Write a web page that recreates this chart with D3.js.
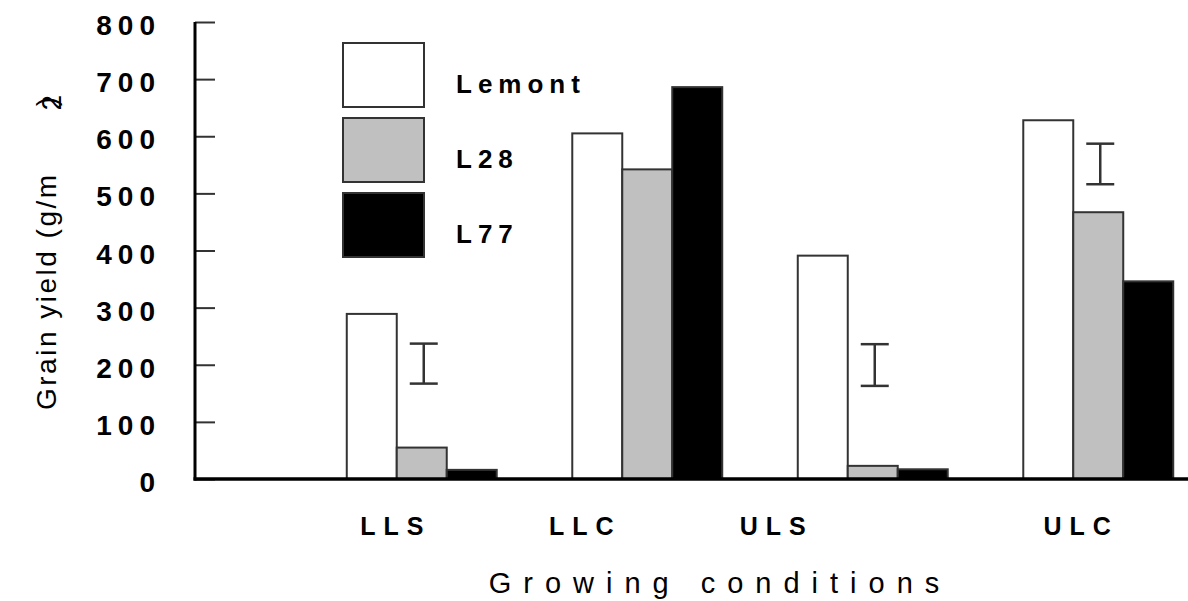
<!DOCTYPE html>
<html>
<head>
<meta charset="utf-8">
<script src="https://cdn.jsdelivr.net/npm/d3@7"></script>
<style>
	body { margin: 0; background: #fff; }
	svg { display: block; }
</style>
</head>
<body>
<div id="chart"></div>
<script>
// growing conditions and lines
var conditions = ["LLS", "LLC", "ULS", "ULC"];
var lines = ["Lemont", "L28", "L77"];
var lemont = [289, 605, 391, 628];
var l28 = [55, 542, 23, 467];
var l77 = [16, 686, 17, 346];
// LSD bars (low, high); LLC has none
var lsdLow = [167, null, 163, 516];
var lsdHigh = [237, null, 236, 587];
var yTicks = [0, 100, 200, 300, 400, 500, 600, 700, 800];

var fills = ["#ffffff", "#c0c0c0", "#000000"];

var width = 1188,
	height = 601,
	axisX = 195,
	baseY = 479;

var svg = d3.select("#chart")
	.append("svg")
	.attr("width", width)
	.attr("height", height);

var y = d3.scaleLinear()
	.domain([0, 800])
	.range([baseY, 22]);

// groups are ~225px apart, the bars fill 150px of each
var x0 = d3.scaleBand()
	.domain(conditions)
	.range([309, 1211])
	.paddingInner(0.335)
	.paddingOuter(0.1675);

var x1 = d3.scaleBand()
	.domain(lines)
	.range([0, x0.bandwidth()]);

var rows = conditions.map(function(c, i) {
	return {cond: c, values: [lemont[i], l28[i], l77[i]], lo: lsdLow[i], hi: lsdHigh[i]};
});

// bars
var groups = svg.selectAll("g.group")
	.data(rows)
	.enter().append("g")
	.attr("class", "group")
	.attr("transform", function(d) { return "translate(" + x0(d.cond) + ",0)"; });

groups.selectAll("rect")
	.data(function(d) { return d.values.map(function(v, j) { return {line: lines[j], v: v, j: j}; }); })
	.enter().append("rect")
	.attr("x", function(d) { return x1(d.line); })
	.attr("y", function(d) { return y(d.v); })
	.attr("width", x1.bandwidth())
	.attr("height", function(d) { return baseY - y(d.v); })
	.style("fill", function(d) { return fills[d.j]; })
	.style("stroke", "#333")
	.style("stroke-width", 2);

// LSD error bars, drawn over the L28 bar position
var cap = 14;
var eb = svg.selectAll("g.lsd")
	.data(rows.filter(function(d) { return d.lo != null; }))
	.enter().append("g")
	.attr("class", "lsd")
	.attr("transform", function(d) { return "translate(" + (x0(d.cond) + x1("L28") + x1.bandwidth() / 2 + 2) + ",0)"; })
	.style("stroke", "#333")
	.style("stroke-width", 2.5);
eb.append("line")
	.attr("y1", function(d) { return y(d.lo); })
	.attr("y2", function(d) { return y(d.hi); });
eb.append("line")
	.attr("x1", -cap).attr("x2", cap)
	.attr("y1", function(d) { return y(d.hi); })
	.attr("y2", function(d) { return y(d.hi); });
eb.append("line")
	.attr("x1", -cap).attr("x2", cap)
	.attr("y1", function(d) { return y(d.lo); })
	.attr("y2", function(d) { return y(d.lo); });

// y axis, ticks pointing into the plot
var yAxis = d3.axisLeft(y)
	.tickValues(yTicks)
	.tickSize(-20)
	.tickSizeOuter(0)
	.tickPadding(34);

var ya = svg.append("g")
	.attr("transform", "translate(" + axisX + ",0)")
	.call(yAxis);
ya.select(".domain").remove();
ya.selectAll(".tick line")
	.style("stroke", "#333")
	.style("stroke-width", 2);
ya.selectAll(".tick text")
	.attr("dy", "0.45em")
	.style("font-family", "'Liberation Sans', Arial, sans-serif")
	.style("font-size", "28px")
	.style("font-weight", "bold")
	.style("letter-spacing", "6px")
	.style("fill", "#000");

svg.append("line")
	.attr("x1", axisX).attr("x2", axisX)
	.attr("y1", y(800)).attr("y2", baseY + 1.5)
	.style("stroke", "#000")
	.style("stroke-width", 3);

// baseline
svg.append("line")
	.attr("x1", axisX - 1.5).attr("x2", width)
	.attr("y1", baseY).attr("y2", baseY)
	.style("stroke", "#000")
	.style("stroke-width", 3.5);

// category labels (sit a little left of the bar groups, as in the original)
var labelShift = [-30, -66, -100, -21];
svg.selectAll("text.cat")
	.data(conditions)
	.enter().append("text")
	.attr("class", "cat")
	.attr("x", function(d, i) { return x0(d) + x0.bandwidth() / 2 + labelShift[i] + 4; })
	.attr("y", 535)
	.attr("text-anchor", "middle")
	.style("font-family", "'Liberation Sans', Arial, sans-serif")
	.style("font-size", "25px")
	.style("font-weight", "bold")
	.style("letter-spacing", "8px")
	.text(function(d) { return d; });

// x title
svg.append("text")
	.attr("x", 720)
	.attr("y", 593)
	.attr("text-anchor", "middle")
	.style("font-family", "'Liberation Sans', Arial, sans-serif")
	.style("font-size", "29px")
	.style("letter-spacing", "12px")
	.text("Growing conditions");

// y title
var yt = svg.append("text")
	.attr("transform", "translate(56,410) rotate(-90)")
	.style("font-family", "'Liberation Sans', Arial, sans-serif")
	.style("font-size", "28px")
	.style("letter-spacing", "2.5px");
yt.append("tspan").text("Grain yield (g/m");
yt.append("tspan").attr("dx", 62).attr("dy", 5).text("2");
yt.append("tspan").attr("dx", -14).attr("dy", -5).text(")");

// legend
var legend = svg.selectAll("g.legend")
	.data(lines)
	.enter().append("g")
	.attr("class", "legend")
	.attr("transform", function(d, i) { return "translate(343," + (43 + i * 75) + ")"; });
legend.append("rect")
	.attr("width", 81)
	.attr("height", 64)
	.style("fill", function(d, i) { return fills[i]; })
	.style("stroke", "#333")
	.style("stroke-width", 2);
legend.append("text")
	.attr("x", 113)
	.attr("y", 50)
	.style("font-family", "'Liberation Sans', Arial, sans-serif")
	.style("font-size", "26px")
	.style("font-weight", "bold")
	.style("letter-spacing", "6px")
	.text(function(d) { return d; });
</script>
</body>
</html>
